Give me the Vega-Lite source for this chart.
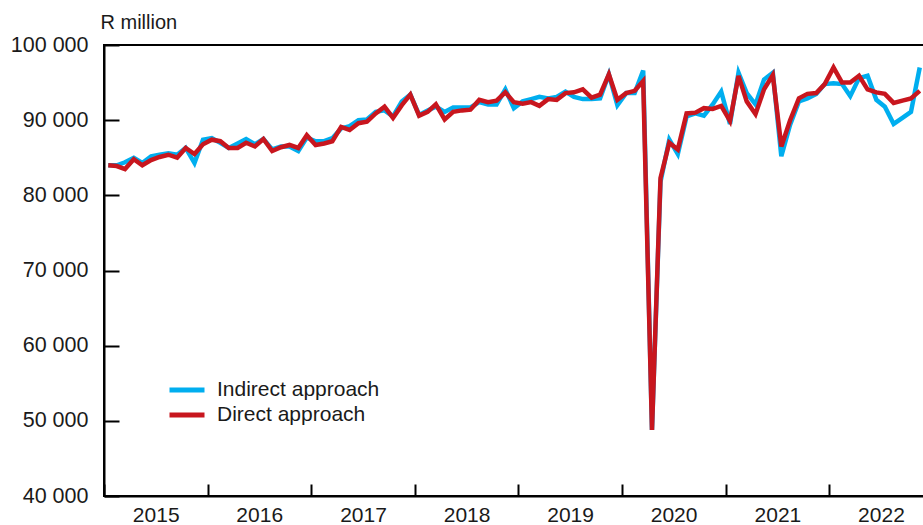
{
  "$schema": "https://vega.github.io/schema/vega-lite/v6.json",
  "autosize": {"type": "none"},
  "padding": {"left": 104, "top": 45, "right": 0, "bottom": 29},
  "width": 820,
  "height": 451,
  "background": "white",
  "config": {
    "view": {"stroke": "black", "strokeWidth": 2},
    "font": "Liberation Sans",
    "axis": {"labelFont": "Liberation Sans", "titleFont": "Liberation Sans", "labelFontSize": 21.5, "labelColor": "#1a1a1a", "domainColor": "black", "domainWidth": 2, "tickColor": "black", "tickWidth": 2, "grid": false}
  },
  "data": {"values": [
    {"d":"2015-01-16","Indirect approach":84000,"Direct approach":84000},
    {"d":"2015-02-15","Indirect approach":84000,"Direct approach":83900},
    {"d":"2015-03-16","Indirect approach":84400,"Direct approach":83500},
    {"d":"2015-04-16","Indirect approach":85000,"Direct approach":84800},
    {"d":"2015-05-16","Indirect approach":84300,"Direct approach":84000},
    {"d":"2015-06-16","Indirect approach":85200,"Direct approach":84700},
    {"d":"2015-07-16","Indirect approach":85400,"Direct approach":85100},
    {"d":"2015-08-16","Indirect approach":85600,"Direct approach":85400},
    {"d":"2015-09-16","Indirect approach":85400,"Direct approach":85000},
    {"d":"2015-10-16","Indirect approach":86300,"Direct approach":86300},
    {"d":"2015-11-16","Indirect approach":84300,"Direct approach":85500},
    {"d":"2015-12-16","Indirect approach":87400,"Direct approach":86800},
    {"d":"2016-01-16","Indirect approach":87600,"Direct approach":87400},
    {"d":"2016-02-15","Indirect approach":87000,"Direct approach":87200},
    {"d":"2016-03-16","Indirect approach":86300,"Direct approach":86300},
    {"d":"2016-04-16","Indirect approach":86900,"Direct approach":86300},
    {"d":"2016-05-16","Indirect approach":87500,"Direct approach":87000},
    {"d":"2016-06-16","Indirect approach":86800,"Direct approach":86500},
    {"d":"2016-07-16","Indirect approach":87500,"Direct approach":87500},
    {"d":"2016-08-16","Indirect approach":86100,"Direct approach":85900},
    {"d":"2016-09-16","Indirect approach":86500,"Direct approach":86400},
    {"d":"2016-10-16","Indirect approach":86500,"Direct approach":86700},
    {"d":"2016-11-16","Indirect approach":85900,"Direct approach":86300},
    {"d":"2016-12-16","Indirect approach":87700,"Direct approach":88000},
    {"d":"2017-01-16","Indirect approach":87200,"Direct approach":86700},
    {"d":"2017-02-15","Indirect approach":87200,"Direct approach":86900},
    {"d":"2017-03-16","Indirect approach":87600,"Direct approach":87200},
    {"d":"2017-04-16","Indirect approach":88900,"Direct approach":89100},
    {"d":"2017-05-16","Indirect approach":89200,"Direct approach":88700},
    {"d":"2017-06-16","Indirect approach":90000,"Direct approach":89600},
    {"d":"2017-07-16","Indirect approach":90100,"Direct approach":89800},
    {"d":"2017-08-16","Indirect approach":91100,"Direct approach":90900},
    {"d":"2017-09-16","Indirect approach":91300,"Direct approach":91800},
    {"d":"2017-10-16","Indirect approach":90500,"Direct approach":90300},
    {"d":"2017-11-16","Indirect approach":92500,"Direct approach":92000},
    {"d":"2017-12-16","Indirect approach":93400,"Direct approach":93400},
    {"d":"2018-01-16","Indirect approach":90700,"Direct approach":90600},
    {"d":"2018-02-15","Indirect approach":91300,"Direct approach":91100},
    {"d":"2018-03-16","Indirect approach":91800,"Direct approach":92100},
    {"d":"2018-04-16","Indirect approach":91100,"Direct approach":90100},
    {"d":"2018-05-16","Indirect approach":91700,"Direct approach":91100},
    {"d":"2018-06-16","Indirect approach":91700,"Direct approach":91300},
    {"d":"2018-07-16","Indirect approach":91700,"Direct approach":91400},
    {"d":"2018-08-16","Indirect approach":92400,"Direct approach":92700},
    {"d":"2018-09-16","Indirect approach":92100,"Direct approach":92400},
    {"d":"2018-10-16","Indirect approach":92100,"Direct approach":92600},
    {"d":"2018-11-16","Indirect approach":94100,"Direct approach":93700},
    {"d":"2018-12-16","Indirect approach":91600,"Direct approach":92400},
    {"d":"2019-01-16","Indirect approach":92500,"Direct approach":92200},
    {"d":"2019-02-15","Indirect approach":92800,"Direct approach":92400},
    {"d":"2019-03-16","Indirect approach":93100,"Direct approach":91900},
    {"d":"2019-04-16","Indirect approach":92900,"Direct approach":92800},
    {"d":"2019-05-16","Indirect approach":93100,"Direct approach":92700},
    {"d":"2019-06-16","Indirect approach":93800,"Direct approach":93600},
    {"d":"2019-07-16","Indirect approach":93100,"Direct approach":93700},
    {"d":"2019-08-16","Indirect approach":92800,"Direct approach":94100},
    {"d":"2019-09-16","Indirect approach":92800,"Direct approach":93000},
    {"d":"2019-10-16","Indirect approach":92900,"Direct approach":93400},
    {"d":"2019-11-16","Indirect approach":96100,"Direct approach":96100},
    {"d":"2019-12-16","Indirect approach":92000,"Direct approach":92700},
    {"d":"2020-01-16","Indirect approach":93600,"Direct approach":93600},
    {"d":"2020-02-15","Indirect approach":93600,"Direct approach":93900},
    {"d":"2020-03-16","Indirect approach":96600,"Direct approach":95200},
    {"d":"2020-04-16","Indirect approach":48800,"Direct approach":48800},
    {"d":"2020-05-16","Indirect approach":81800,"Direct approach":82300},
    {"d":"2020-06-16","Indirect approach":87400,"Direct approach":87000},
    {"d":"2020-07-16","Indirect approach":85500,"Direct approach":86100},
    {"d":"2020-08-16","Indirect approach":90500,"Direct approach":90900},
    {"d":"2020-09-16","Indirect approach":90900,"Direct approach":91000},
    {"d":"2020-10-16","Indirect approach":90600,"Direct approach":91600},
    {"d":"2020-11-16","Indirect approach":92100,"Direct approach":91500},
    {"d":"2020-12-16","Indirect approach":93800,"Direct approach":91900},
    {"d":"2021-01-16","Indirect approach":89500,"Direct approach":89900},
    {"d":"2021-02-15","Indirect approach":96300,"Direct approach":95900},
    {"d":"2021-03-16","Indirect approach":93600,"Direct approach":92500},
    {"d":"2021-04-16","Indirect approach":92100,"Direct approach":90800},
    {"d":"2021-05-16","Indirect approach":95400,"Direct approach":94100},
    {"d":"2021-06-16","Indirect approach":96300,"Direct approach":96000},
    {"d":"2021-07-16","Indirect approach":85200,"Direct approach":86500},
    {"d":"2021-08-16","Indirect approach":89400,"Direct approach":90000},
    {"d":"2021-09-16","Indirect approach":92500,"Direct approach":92900},
    {"d":"2021-10-16","Indirect approach":92900,"Direct approach":93500},
    {"d":"2021-11-16","Indirect approach":93500,"Direct approach":93600},
    {"d":"2021-12-16","Indirect approach":94800,"Direct approach":94800},
    {"d":"2022-01-16","Indirect approach":94900,"Direct approach":97000},
    {"d":"2022-02-15","Indirect approach":94800,"Direct approach":95000},
    {"d":"2022-03-16","Indirect approach":93200,"Direct approach":95000},
    {"d":"2022-04-16","Indirect approach":95600,"Direct approach":95900},
    {"d":"2022-05-16","Indirect approach":95900,"Direct approach":94100},
    {"d":"2022-06-16","Indirect approach":92700,"Direct approach":93700},
    {"d":"2022-07-16","Indirect approach":91800,"Direct approach":93500},
    {"d":"2022-08-16","Indirect approach":89500,"Direct approach":92300},
    {"d":"2022-09-16","Indirect approach":90300,"Direct approach":92600},
    {"d":"2022-10-16","Indirect approach":91100,"Direct approach":92900},
    {"d":"2022-11-16","Indirect approach":97000,"Direct approach":93900}
  ]},
  "transform": [{"fold": ["Indirect approach", "Direct approach"], "as": ["series", "value"]}],
  "mark": {"type": "line", "strokeWidth": 4.5, "strokeJoin": "miter", "clip": true},
  "encoding": {
    "x": {
      "field": "d", "type": "temporal",
      "scale": {"domain": [{"year": 2015, "month": 1, "date": 1}, {"year": 2022, "month": 12, "date": 1}]},
      "axis": {"title": null, "format": "%Y", "tickCount": {"interval": "year", "step": 1}, "labelOffset": 51.7, "labelFlush": false, "labelOverlap": false, "labelAlign": "center", "tickSize": -12, "labelPadding": 20, "labelFontSize": 21}
    },
    "y": {
      "field": "value", "type": "quantitative",
      "scale": {"domain": [40000, 100000], "nice": false, "zero": false},
      "axis": {"values": [40000, 50000, 60000, 70000, 80000, 90000, 100000], "labelExpr": "replace(format(datum.value, ','), ',', ' ')", "tickSize": -15, "labelPadding": 31, "title": "R million", "titleAngle": 0, "titleAlign": "left", "titleBaseline": "alphabetic", "titleX": -4, "titleY": -17, "titleFontSize": 20, "titleFontWeight": "normal", "titleColor": "#1a1a1a"}
    },
    "color": {
      "field": "series", "type": "nominal",
      "scale": {"domain": ["Indirect approach", "Direct approach"], "range": ["#00AEEF", "#C8161E"]},
      "legend": {"title": null, "orient": "none", "legendX": 68, "legendY": 330, "symbolType": "M-1.4,0H1.4", "symbolStrokeWidth": 5, "symbolSize": 625, "labelFontSize": 21, "labelLimit": 400, "labelColor": "#1a1a1a", "labelOffset": 15, "rowPadding": 0, "padding": 0}
    }
  }
}
